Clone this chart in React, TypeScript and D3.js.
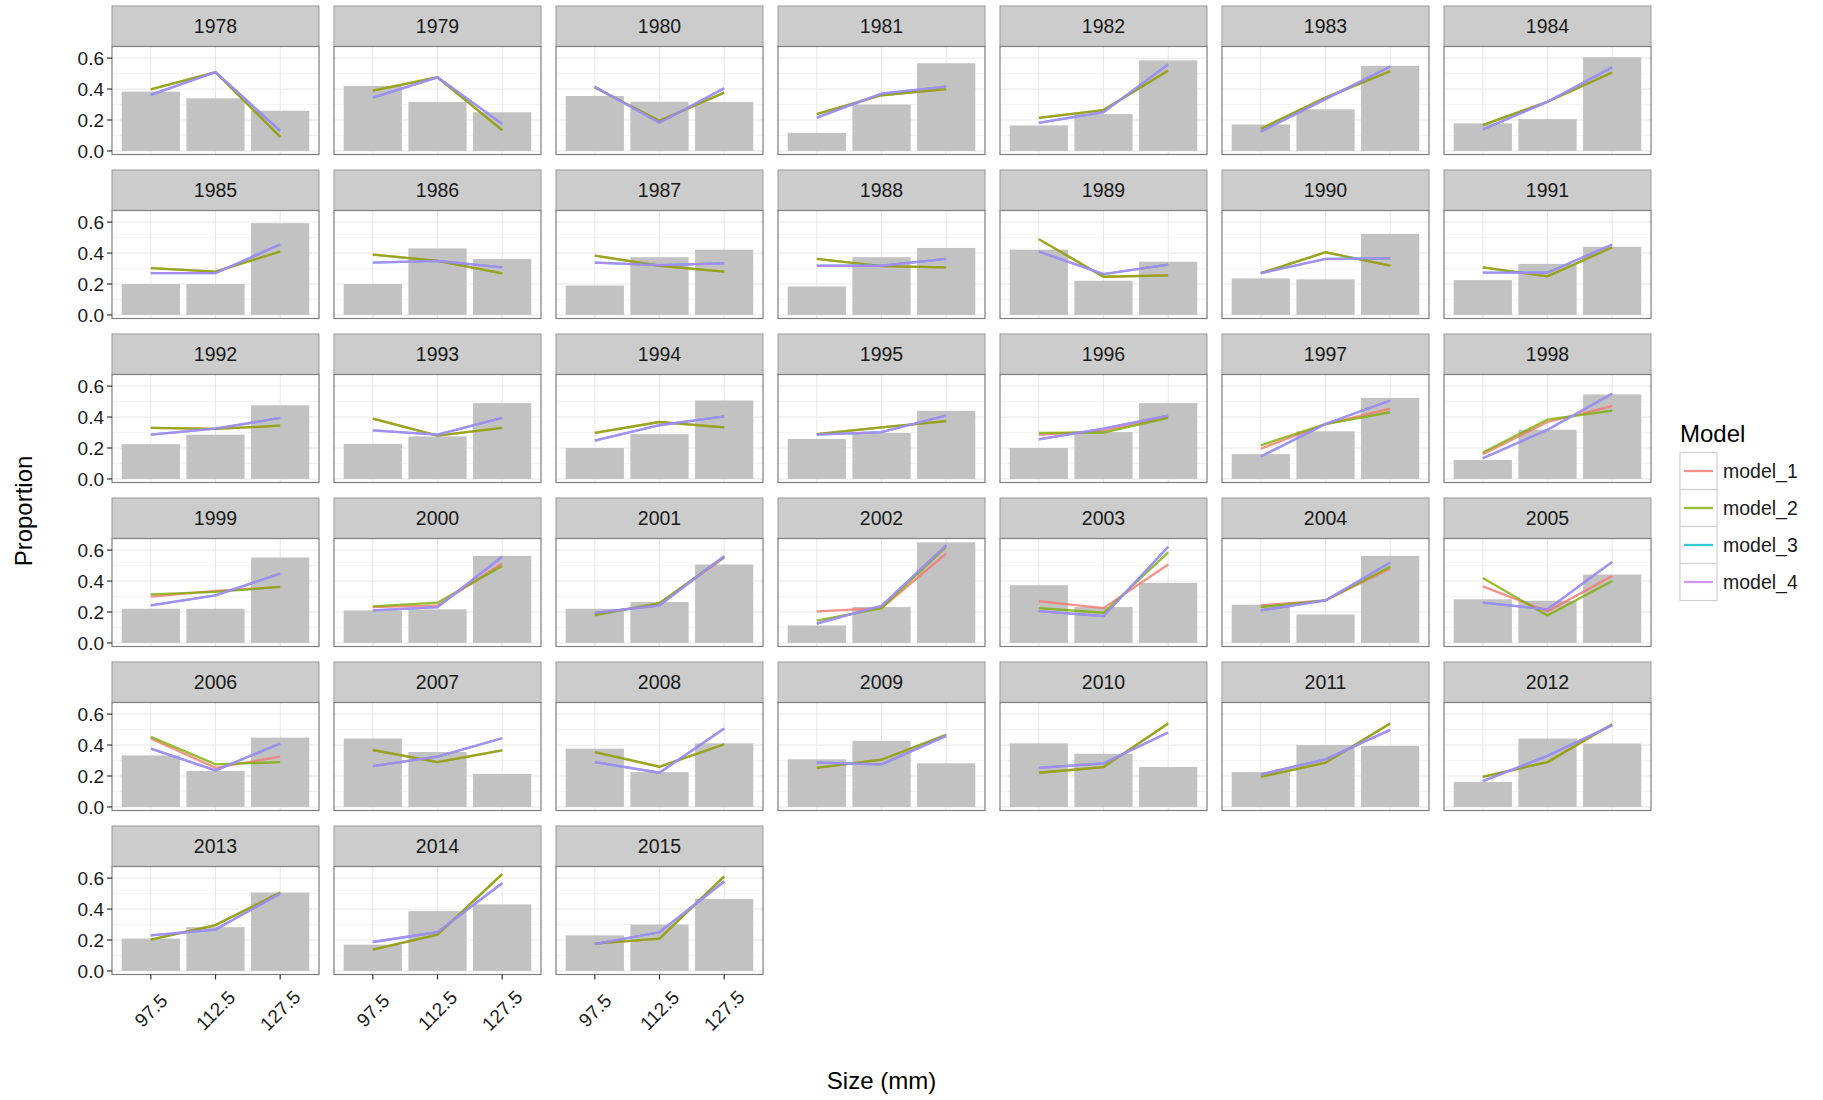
import React from "react";
import * as d3 from "d3";

const years = [1978, 1979, 1980, 1981, 1982, 1983, 1984, 1985, 1986, 1987, 1988, 1989, 1990, 1991, 1992, 1993, 1994, 1995, 1996, 1997, 1998, 1999, 2000, 2001, 2002, 2003, 2004, 2005, 2006, 2007, 2008, 2009, 2010, 2011, 2012, 2013, 2014, 2015];
const sizes = ["97.5", "112.5", "127.5"];
const yTicks = [0, 0.2, 0.4, 0.6];
const modelNames = ["model_1", "model_2", "model_3", "model_4"];
const modelColors = ["#F8766D", "#7CAE00", "#00BFC4", "#C77CFF"];

const observed = [
  [0.383, 0.34, 0.26], [0.42, 0.316, 0.25], [0.355, 0.318, 0.316], [0.117, 0.3, 0.567], [0.165, 0.238, 0.585], [0.171, 0.269, 0.55], [0.178, 0.206, 0.606],
  [0.2, 0.2, 0.593], [0.2, 0.43, 0.362], [0.19, 0.373, 0.422], [0.184, 0.373, 0.433], [0.422, 0.221, 0.344], [0.236, 0.23, 0.524], [0.225, 0.33, 0.44],
  [0.225, 0.286, 0.476], [0.227, 0.275, 0.49], [0.2, 0.29, 0.507], [0.258, 0.297, 0.44], [0.2, 0.303, 0.49], [0.16, 0.308, 0.524], [0.123, 0.318, 0.546],
  [0.221, 0.221, 0.552], [0.21, 0.217, 0.563], [0.221, 0.264, 0.507], [0.113, 0.232, 0.65], [0.373, 0.232, 0.388], [0.247, 0.184, 0.563], [0.282, 0.273, 0.442],
  [0.333, 0.232, 0.448], [0.442, 0.355, 0.214], [0.377, 0.225, 0.411], [0.308, 0.427, 0.282], [0.411, 0.344, 0.258], [0.225, 0.4, 0.394], [0.162, 0.442, 0.41],
  [0.209, 0.283, 0.507], [0.17, 0.387, 0.43], [0.23, 0.3, 0.465],
];

const model1 = [
  [0.398, 0.509, 0.091], [0.39, 0.476, 0.135], [0.41, 0.195, 0.377], [0.238, 0.36, 0.4], [0.214, 0.264, 0.52], [0.143, 0.345, 0.515], [0.167, 0.318, 0.507],
  [0.303, 0.28, 0.41], [0.39, 0.35, 0.268], [0.383, 0.318, 0.28], [0.362, 0.316, 0.308], [0.49, 0.247, 0.256], [0.27, 0.405, 0.318], [0.308, 0.249, 0.437],
  [0.33, 0.323, 0.344], [0.39, 0.28, 0.33], [0.297, 0.368, 0.333], [0.29, 0.333, 0.373], [0.285, 0.31, 0.4], [0.195, 0.355, 0.455], [0.16, 0.368, 0.47],
  [0.3, 0.336, 0.362], [0.232, 0.243, 0.513], [0.185, 0.255, 0.55], [0.204, 0.225, 0.578], [0.27, 0.225, 0.507], [0.243, 0.275, 0.481], [0.366, 0.204, 0.433],
  [0.442, 0.253, 0.325], [0.368, 0.29, 0.366], [0.355, 0.26, 0.405], [0.253, 0.305, 0.466], [0.221, 0.258, 0.539], [0.195, 0.286, 0.539], [0.195, 0.29, 0.535],
  [0.202, 0.296, 0.507], [0.137, 0.235, 0.626], [0.176, 0.209, 0.611],
];

const model2 = [
  [0.398, 0.509, 0.091], [0.39, 0.476, 0.135], [0.41, 0.195, 0.377], [0.238, 0.36, 0.4], [0.214, 0.264, 0.52], [0.143, 0.345, 0.515], [0.167, 0.318, 0.507],
  [0.303, 0.28, 0.41], [0.39, 0.35, 0.268], [0.383, 0.318, 0.28], [0.362, 0.316, 0.308], [0.49, 0.247, 0.256], [0.27, 0.405, 0.318], [0.308, 0.249, 0.437],
  [0.33, 0.323, 0.344], [0.39, 0.28, 0.33], [0.297, 0.368, 0.333], [0.29, 0.333, 0.373], [0.298, 0.3, 0.395], [0.217, 0.355, 0.431], [0.171, 0.383, 0.442],
  [0.314, 0.33, 0.362], [0.236, 0.26, 0.498], [0.178, 0.258, 0.557], [0.145, 0.225, 0.62], [0.225, 0.195, 0.585], [0.232, 0.275, 0.492], [0.42, 0.178, 0.4],
  [0.453, 0.275, 0.29], [0.368, 0.29, 0.366], [0.355, 0.26, 0.405], [0.253, 0.305, 0.466], [0.221, 0.258, 0.539], [0.195, 0.286, 0.539], [0.195, 0.29, 0.535],
  [0.202, 0.296, 0.507], [0.137, 0.235, 0.626], [0.176, 0.209, 0.611],
];

const model3 = [
  [0.362, 0.509, 0.13], [0.345, 0.476, 0.175], [0.415, 0.182, 0.405], [0.215, 0.37, 0.415], [0.182, 0.251, 0.559], [0.125, 0.335, 0.546], [0.139, 0.318, 0.54],
  [0.27, 0.27, 0.455], [0.338, 0.35, 0.308], [0.338, 0.322, 0.333], [0.318, 0.318, 0.362], [0.41, 0.264, 0.325], [0.27, 0.362, 0.366], [0.273, 0.273, 0.455],
  [0.286, 0.325, 0.394], [0.314, 0.286, 0.394], [0.247, 0.347, 0.405], [0.286, 0.303, 0.41], [0.255, 0.325, 0.41], [0.145, 0.355, 0.507], [0.134, 0.318, 0.55],
  [0.243, 0.308, 0.448], [0.21, 0.232, 0.557], [0.195, 0.243, 0.561], [0.125, 0.24, 0.63], [0.206, 0.173, 0.622], [0.21, 0.275, 0.52], [0.26, 0.217, 0.524],
  [0.377, 0.236, 0.41], [0.264, 0.325, 0.444], [0.29, 0.221, 0.507], [0.286, 0.275, 0.459], [0.253, 0.282, 0.481], [0.21, 0.308, 0.498], [0.167, 0.33, 0.528],
  [0.23, 0.267, 0.5], [0.187, 0.25, 0.567], [0.174, 0.25, 0.578],
];

const model4 = [
  [0.362, 0.509, 0.13], [0.345, 0.476, 0.175], [0.415, 0.182, 0.405], [0.215, 0.37, 0.415], [0.182, 0.251, 0.559], [0.125, 0.335, 0.546], [0.139, 0.318, 0.54],
  [0.27, 0.27, 0.455], [0.338, 0.35, 0.308], [0.338, 0.322, 0.333], [0.318, 0.318, 0.362], [0.41, 0.264, 0.325], [0.27, 0.362, 0.366], [0.273, 0.273, 0.455],
  [0.286, 0.325, 0.394], [0.314, 0.286, 0.394], [0.247, 0.347, 0.405], [0.286, 0.303, 0.41], [0.255, 0.325, 0.41], [0.145, 0.355, 0.507], [0.134, 0.318, 0.55],
  [0.243, 0.308, 0.448], [0.21, 0.232, 0.557], [0.195, 0.243, 0.561], [0.125, 0.24, 0.63], [0.206, 0.173, 0.622], [0.21, 0.275, 0.52], [0.26, 0.217, 0.524],
  [0.377, 0.236, 0.41], [0.264, 0.325, 0.444], [0.29, 0.221, 0.507], [0.286, 0.275, 0.459], [0.253, 0.282, 0.481], [0.21, 0.308, 0.498], [0.167, 0.33, 0.528],
  [0.23, 0.267, 0.5], [0.187, 0.25, 0.567], [0.174, 0.25, 0.578],
];

const models = [model1, model2, model3, model4];

const W = 1823;
const H = 1100;
const NCOL = 7;
const LEFT = 112;
const TOP = 6;
const PW = 207;
const COLSTEP = 222;
const ROWSTEP = 164;
const STRIP_H = 40.5;
const PANEL_H = 148.5;
const FONT = "'Liberation Sans', Arial, Helvetica, sans-serif";

export default function App() {
  const x = d3.scaleBand<string>().domain(sizes).range([0, PW]).paddingInner(0.1).paddingOuter(0.15);
  const plotH = PANEL_H - STRIP_H;
  const y = d3.scaleLinear().domain([-0.023, 0.675]).range([plotH, 0]);
  const minor = [0.1, 0.3, 0.5];
  const line = d3
    .line<number>()
    .x((_, i) => (x(sizes[i]) as number) + x.bandwidth() / 2)
    .y((d) => y(d));
  const nRows = Math.ceil(years.length / NCOL);
  const lastRowStart = (nRows - 1) * NCOL;

  return (
    <svg width={W} height={H} style={{ position: "absolute", left: 0, top: 0, background: "#fff" }} fontFamily={FONT}>
      <rect x={0} y={0} width={W} height={H} fill="#fff" />
      {years.map((yr, k) => {
        const col = k % NCOL;
        const row = Math.floor(k / NCOL);
        const px = LEFT + col * COLSTEP;
        const py = TOP + row * ROWSTEP;
        const plotTop = py + STRIP_H;
        return (
          <g key={yr}>
            <rect x={px} y={py} width={PW} height={STRIP_H} fill="#CCCCCC" stroke="#9a9a9a" strokeWidth={1} />
            <text x={px + PW / 2} y={py + STRIP_H / 2} dy="0.35em" textAnchor="middle" fontSize={19.5} fill="#1a1a1a">
              {yr}
            </text>
            <g transform={`translate(${px},${plotTop})`}>
              <rect x={0} y={0} width={PW} height={plotH} fill="#fff" />
              {minor.map((t) => (
                <line key={"m" + t} x1={0} x2={PW} y1={y(t)} y2={y(t)} stroke="#F4F4F4" strokeWidth={1} />
              ))}
              {yTicks.map((t) => (
                <line key={"g" + t} x1={0} x2={PW} y1={y(t)} y2={y(t)} stroke="#E8E8E8" strokeWidth={1} />
              ))}
              {sizes.map((s) => (
                <line key={"v" + s} x1={(x(s) as number) + x.bandwidth() / 2} x2={(x(s) as number) + x.bandwidth() / 2} y1={0} y2={plotH} stroke="#E8E8E8" strokeWidth={1} />
              ))}
              {observed[k].map((v, i) => (
                <rect key={"b" + i} x={x(sizes[i])} y={y(v)} width={x.bandwidth()} height={y(0) - y(v)} fill="#C2C2C2" />
              ))}
              {models.map((m, mi) => (
                <path key={"l" + mi} d={line(m[k]) || ""} fill="none" stroke={modelColors[mi]} strokeOpacity={0.8} strokeWidth={2.3} />
              ))}
              <rect x={0} y={0} width={PW} height={plotH} fill="none" stroke="#7F7F7F" strokeWidth={1.2} />
              {col === 0 &&
                yTicks.map((t) => (
                  <g key={"yt" + t}>
                    <line x1={-5} x2={0} y1={y(t)} y2={y(t)} stroke="#333" strokeWidth={1.2} />
                    <text x={-8} y={y(t)} dy="0.35em" textAnchor="end" fontSize={19} fill="#1a1a1a">
                      {d3.format(".1f")(t)}
                    </text>
                  </g>
                ))}
              {k >= lastRowStart &&
                sizes.map((s) => {
                  const cx = (x(s) as number) + x.bandwidth() / 2;
                  return (
                    <g key={"xt" + s}>
                      <line x1={cx} x2={cx} y1={plotH} y2={plotH + 5} stroke="#333" strokeWidth={1.2} />
                      <text transform={`translate(${cx},${plotH + 36}) rotate(-45)`} textAnchor="middle" dy="0.35em" fontSize={19} fill="#1a1a1a">
                        {s}
                      </text>
                    </g>
                  );
                })}
            </g>
          </g>
        );
      })}
      <text x={LEFT + (COLSTEP * (NCOL - 1) + PW) / 2} y={1081} dy="0.35em" textAnchor="middle" fontSize={24} fill="#000">
        Size (mm)
      </text>
      <text transform="translate(24,511) rotate(-90)" textAnchor="middle" dy="0.35em" fontSize={24} fill="#000">
        Proportion
      </text>
      <g transform="translate(1680,0)">
        <text x={0} y={434} dy="0.35em" fontSize={24} fill="#000">
          Model
        </text>
        {modelNames.map((name, i) => {
          const cy = 471 + i * 37;
          return (
            <g key={name}>
              <rect x={0} y={cy - 18.5} width={37} height={37} fill="#fff" stroke="#D0D0D0" strokeWidth={1.2} />
              <line x1={4} x2={33} y1={cy} y2={cy} stroke={modelColors[i]} strokeOpacity={0.8} strokeWidth={2.3} />
              <text x={43} y={cy} dy="0.35em" fontSize={19.5} fill="#1a1a1a">
                {name}
              </text>
            </g>
          );
        })}
      </g>
    </svg>
  );
}
